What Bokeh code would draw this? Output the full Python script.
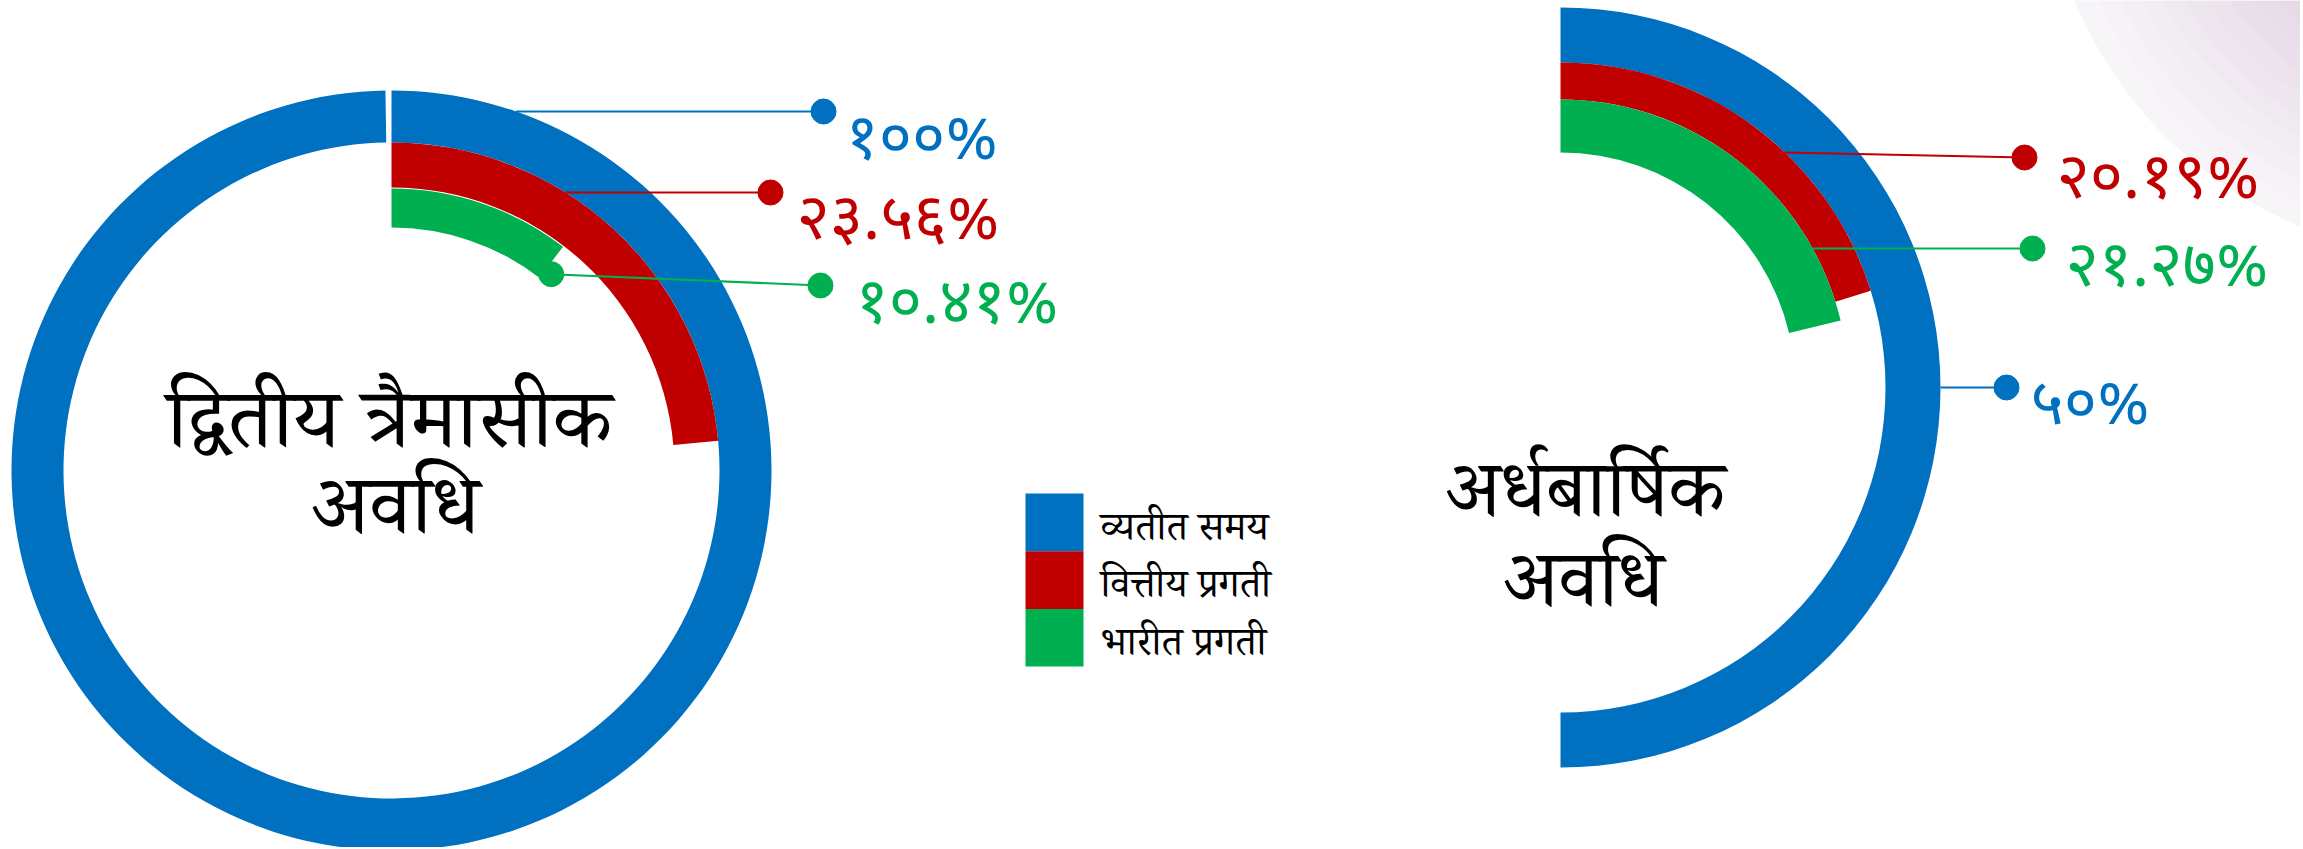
import numpy as np
from bokeh.plotting import figure
from bokeh.models import Range1d
from bokeh.core.properties import value
from bokeh.embed import file_html
from bokeh.resources import INLINE

# ---------------- data ----------------
series = ["व्यतीत समय", "वित्तीय प्रगती", "भारीत प्रगती"]
colors = ["#0070C0", "#C00000", "#00B050"]
q2_values = [100, 23.56, 10.41]          # द्वितीय त्रैमासीक अवधि
h1_values = [50, 20.19, 21.27]           # अर्धबार्षिक अवधि
q2_title = ["द्वितीय त्रैमासीक", "अवधि"]
h1_title = ["अर्धबार्षिक", "अवधि"]

DEV = str.maketrans("0123456789", "०१२३४५६७८९")


def dev_pct(v):
    s = ("%d" % v) if float(v).is_integer() else ("%.2f" % v)
    return s.translate(DEV) + "%"


# ---------------- layout ----------------
FW, FH = 2300, 847
NUM_FONT = value("Noto Sans Devanagari")
TITLE_FONT = value("Noto Serif Devanagari")


def Y(y):
    return FH - y


p = figure(width=FW, height=FH, x_range=Range1d(0, FW), y_range=Range1d(0, FH),
           output_backend="svg", toolbar_location=None, min_border=0)
p.axis.visible = False
p.grid.visible = False
p.outline_line_color = None
p.background_fill_color = "white"
p.border_fill_color = "white"

# faint lavender decoration top-right
p.circle(x=[2460], y=[Y(-160)], radius=418, fill_color="#B48CC0", fill_alpha=0.09,
         line_color=None)
for r in np.linspace(395, 225, 10):
    p.circle(x=[2460], y=[Y(-160)], radius=r, fill_color="#B48CC0", fill_alpha=0.026,
             line_color=None)

charts = [
    dict(values=q2_values, title=q2_title, cx=391, cy=470, tx=[389, 395],
         radii=[(328, 380), (283, 328), (243, 282)],
         lead=[(111, 111, 823, 0), (192, 192, 770, 1), (None, 285, 820, 2)],
         text_dx=[22, 26, 35], base=[143, 223, 307],
         title_base=[434, 520], title_size="84px"),
    dict(values=h1_values, title=h1_title, cx=1560, cy=387, tx=[1585, 1583],
         radii=[(325, 380), (288, 325), (235, 288)],
         lead=[(387, 387, 2006, 0), (152, 157, 2024, 1), (248, 248, 2032, 2)],
         text_dx=[24, 32, 33], base=[408, 182, 270],
         title_base=[503, 593], title_size="80px"),
]

for ch in charts:
    cx, cy = ch["cx"], ch["cy"]
    for i, v in enumerate(ch["values"]):
        ri, ro = ch["radii"][i]
        sweep = min(2 * np.pi * v / 100.0, 2 * np.pi - 0.016)
        p.annular_wedge(x=[cx], y=[Y(cy)], inner_radius=ri, outer_radius=ro,
                        start_angle=np.pi / 2, end_angle=np.pi / 2 - sweep,
                        direction="clock", fill_color=colors[i], line_color=None)
    # leader lines
    for (ys, ye, xd, si), dx, b in zip(ch["lead"], ch["text_dx"], ch["base"]):
        v = ch["values"][si]
        ri, ro = ch["radii"][si]
        if ys is None:
            a = 2 * np.pi * v / 100.0
            rm = (ri + ro) / 2
            x0, y0 = cx + rm * np.sin(a), cy - rm * np.cos(a) + 12
            p.scatter(x=[x0], y=[Y(y0)], size=25, color=colors[si])
        else:
            y0 = ys
            x0 = cx + np.sqrt(ro ** 2 - (cy - ys) ** 2)
        p.segment(x0=[x0], y0=[Y(y0)], x1=[xd], y1=[Y(ye)], line_color=colors[si], line_width=2)
        p.scatter(x=[xd], y=[Y(ye)], size=25, color=colors[si])
        p.text(x=[xd + dx], y=[Y(b)], text=[dev_pct(v)], text_color=colors[si],
               text_font=NUM_FONT, text_font_size=value("64px"),
               text_align="left", text_baseline="alphabetic")
    # centre title
    for line, b, tx in zip(ch["title"], ch["title_base"], ch["tx"]):
        p.text(x=[tx], y=[Y(b)], text=[line],
               text_color="black", text_font=TITLE_FONT, text_font_size=value(ch["title_size"]),
               text_align="center", text_baseline="alphabetic")

# legend
for i, (name, c) in enumerate(zip(series, colors)):
    top = 493 + i * 57.7
    p.quad(left=[1025], right=[1083], top=[Y(top)], bottom=[Y(top + 57.7)],
           fill_color=c, line_color=None)
    p.text(x=[1100], y=[Y(top + 40)], text=[name], text_color="black",
           text_font=TITLE_FONT, text_font_size=value("40px"),
           text_align="left", text_baseline="alphabetic")

open("out.html", "w").write(file_html(p, INLINE))
